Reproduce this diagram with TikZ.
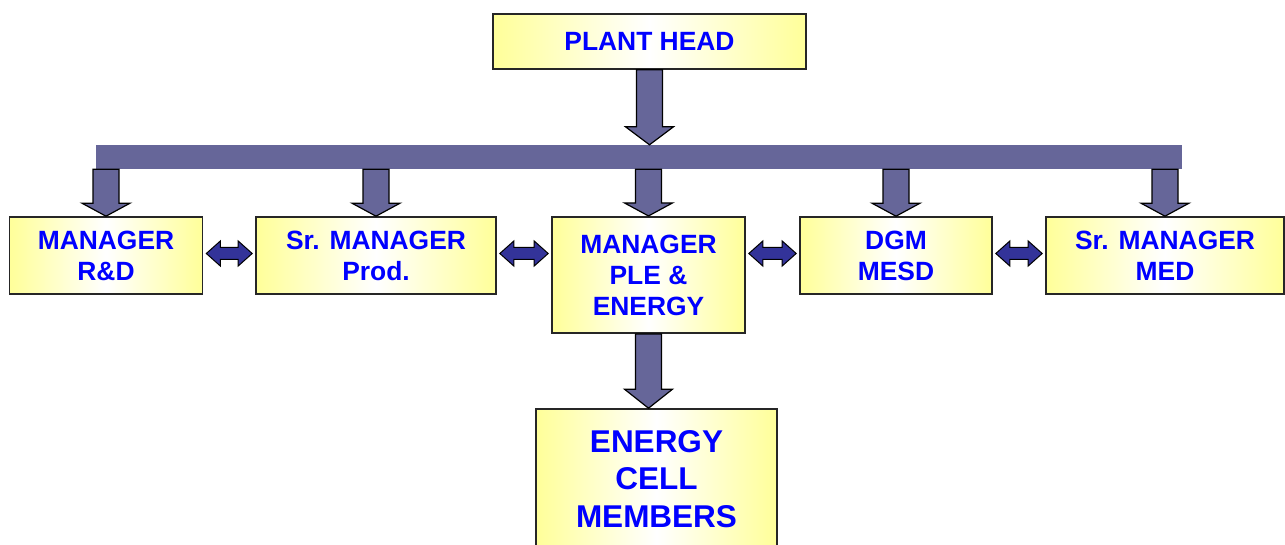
\documentclass[tikz,border=0pt]{standalone}
\usepackage{fontspec}
\setmainfont{Liberation Sans}
\usetikzlibrary{calc}
\definecolor{boxyellow}{RGB}{255,255,153}
\definecolor{barblue}{RGB}{102,102,153}
\definecolor{linkblue}{RGB}{51,51,153}
\definecolor{textblue}{RGB}{0,0,255}
\begin{document}
\begin{tikzpicture}[x=1pt, y=-1pt,
    box/.style = {draw=black!85, line width=1.6pt, left color=boxyellow, right color=boxyellow,
      middle color=white, text=textblue, align=center, inner sep=0pt,
      font=\bfseries\fontsize{26.4}{31}\selectfont},
    bigarrow/.style = {draw=black, line width=1.2pt, fill=barblue,
      to path={let \p1=(\tikztostart), \p2=(\tikztotarget) in
        ({\x1-13pt},\y1) -- ({\x1+13pt},\y1) -- ({\x1+13pt},{\y2+#1}) -- ({\x1+24pt},{\y2+#1})
        -- (\x1,\y2) -- ({\x1-24pt},{\y2+#1}) -- ({\x1-13pt},{\y2+#1}) -- cycle}},
    bigarrow/.default = 18pt,
    linkarrow/.style = {draw=black, line width=1pt, fill=linkblue,
      to path={let \p1=(\tikztostart), \p2=(\tikztotarget), \n1={max(\y1,\y2)+2} in
        ({\x1+3pt},{\n1*1pt}) -- ({\x1+17pt},{\n1*1pt+12.5pt}) -- ({\x1+17pt},{\n1*1pt+6pt})
        -- ({\x2-17pt},{\n1*1pt+6pt}) -- ({\x2-17pt},{\n1*1pt+12.5pt}) -- ({\x2-3pt},{\n1*1pt})
        -- ({\x2-17pt},{\n1*1pt-12.5pt}) -- ({\x2-17pt},{\n1*1pt-6pt}) -- ({\x1+17pt},{\n1*1pt-6pt})
        -- ({\x1+17pt},{\n1*1pt-12.5pt}) -- cycle}}]
    \useasboundingbox (0,0) rectangle (1285,545);

    \node[box, minimum width=313, minimum height=55] (head) at (649.5,41.5) {PLANT HEAD};
    \node[fill=barblue, minimum width=1086, minimum height=24, inner sep=0pt] (bar) at (639,157) {};

    \node[box, minimum width=193, minimum height=77] (rd) at (106,255.5) {MANAGER\\R\&D};
    \node[box, minimum width=240, minimum height=77] (prod) at (376,255.5) {Sr. MANAGER\\Prod.};
    \node[box, minimum width=193, minimum height=116.5] (ple) at (648.5,275) {MANAGER\\PLE \&\\ENERGY};
    \node[box, minimum width=192, minimum height=77] (dgm) at (896,255.5) {DGM\\MESD};
    \node[box, minimum width=238, minimum height=77] (med) at (1165,255.5) {Sr. MANAGER\\MED};
    \node[box, minimum width=241, minimum height=140, font=\bfseries\fontsize{31.5}{37.5}\selectfont]
      (cell) at (656.5,479) {ENERGY\\CELL\\MEMBERS};

    \coordinate (rdtop) at (bar.south -| rd.north);
    \coordinate (prodtop) at (bar.south -| prod.north);
    \coordinate (pletop) at (bar.south -| ple.north);
    \coordinate (dgmtop) at (bar.south -| dgm.north);
    \coordinate (medtop) at (bar.south -| med.north);

    \draw[bigarrow] (head.south) to (bar.north);
    \draw[bigarrow=13pt] (rdtop) to (rd.north);
    \draw[bigarrow=13pt] (prodtop) to (prod.north);
    \draw[bigarrow=13pt] (pletop) to (ple.north);
    \draw[bigarrow=13pt] (dgmtop) to (dgm.north);
    \draw[bigarrow=13pt] (medtop) to (med.north);
    \draw[bigarrow=19pt] (ple.south) to (cell.north);

    \draw[linkarrow] (rd.east) to (prod.west);
    \draw[linkarrow] (prod.east) to (ple.west);
    \draw[linkarrow] (ple.east) to (dgm.west);
    \draw[linkarrow] (dgm.east) to (med.west);
\end{tikzpicture}
\end{document}
